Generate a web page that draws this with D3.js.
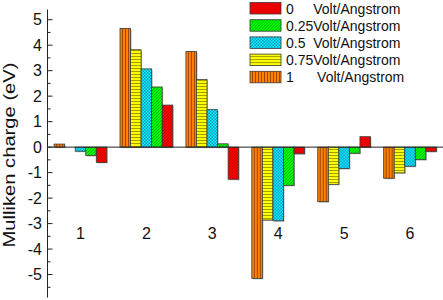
<!DOCTYPE html>
<html>
<head>
<meta charset="utf-8">
<script src="https://cdn.jsdelivr.net/npm/d3@7"></script>
<style>
  body { margin: 0; background: #fff; }
  text { font-family: "Liberation Sans", Arial, sans-serif; fill: #111; }
</style>
</head>
<body>
<svg id="chart" width="443" height="300"></svg>
<script>
// groups along the x axis
var categories = ["1", "2", "3", "4", "5", "6"];

// field strength series (legend order)
var seriesKeys = ["f0", "f025", "f05", "f075", "f1"];
var seriesLabels = ["0     Volt/Angstrom", "0.25Volt/Angstrom", "0.5  Volt/Angstrom",
                    "0.75Volt/Angstrom", "1      Volt/Angstrom"];

// Mulliken charge (eV) per group
var f0   = [-0.60, 1.65, -1.26, -0.26,  0.41, -0.17];
var f025 = [-0.33, 2.36,  0.13, -1.50, -0.24, -0.49];
var f05  = [-0.16, 3.07,  1.47, -2.89, -0.84, -0.75];
var f075 = [ 0.00, 3.82,  2.65, -2.86, -1.46, -1.01];
var f1   = [ 0.12, 4.66,  3.75, -5.15, -2.14, -1.22];

var yTicks = [-5, -4, -3, -2, -1, 0, 1, 2, 3, 4, 5];
var yMinor = [-5.5, -4.5, -3.5, -2.5, -1.5, -0.5, 0.5, 1.5, 2.5, 3.5, 4.5];

var values = {f0: f0, f025: f025, f05: f05, f075: f075, f1: f1};

var style = {
  f0:   {fill: "#ff0000", line: "#b00000", kind: "diag"},
  f025: {fill: "#00ff00", line: "#00a000", kind: "diag"},
  f05:  {fill: "#00ffff", line: "#1a8fc0", kind: "check"},
  f075: {fill: "#ffff00", line: "#a0a000", kind: "horiz"},
  f1:   {fill: "#ff8000", line: "#a04800", kind: "vert"}
};

var table = categories.map(function(c, i) {
  var row = {cat: c};
  seriesKeys.forEach(function(k) { row[k] = values[k][i]; });
  return row;
});

var svg = d3.select("#chart");
var axisX = 47.5;

var x = d3.scaleBand().domain(categories).range([axisX, 443])
    .paddingInner(0.2).paddingOuter(0.1);
// bars inside a group run from 1 V/A down to 0 V/A
var barOrder = seriesKeys.slice().reverse();
var xs = d3.scaleBand().domain(barOrder).range([0, x.bandwidth()]);
var y = d3.scaleLinear().domain([-5.9, 5.4]).range([297.5, 9.5]);

// patterns
var defs = svg.append("defs");
seriesKeys.forEach(function(k) {
  var s = style[k];
  var p = defs.append("pattern").attr("id", "pat-" + k)
      .attr("patternUnits", "userSpaceOnUse");
  if (s.kind == "diag") {
    p.attr("width", 3).attr("height", 3);
    p.append("rect").attr("width", 3).attr("height", 3).attr("fill", s.fill);
    p.append("path").attr("d", "M-1,1 L1,-1 M0,3 L3,0 M2,4 L4,2")
      .attr("stroke", s.line).attr("stroke-width", 0.8);
  } else if (s.kind == "check") {
    p.attr("width", 3).attr("height", 3);
    p.append("rect").attr("width", 3).attr("height", 3).attr("fill", s.fill);
    p.append("rect").attr("width", 1.5).attr("height", 1.5).attr("fill", s.line);
    p.append("rect").attr("x", 1.5).attr("y", 1.5).attr("width", 1.5).attr("height", 1.5).attr("fill", s.line);
  } else if (s.kind == "horiz") {
    p.attr("width", 3).attr("height", 3);
    p.append("rect").attr("width", 3).attr("height", 3).attr("fill", s.fill);
    p.append("rect").attr("y", 2).attr("width", 3).attr("height", 1).attr("fill", s.line);
  } else {
    p.attr("width", 3).attr("height", 3);
    p.append("rect").attr("width", 3).attr("height", 3).attr("fill", s.fill);
    p.append("rect").attr("x", 2).attr("width", 1).attr("height", 3).attr("fill", s.line);
  }
});

// bars
var groups = svg.selectAll(".grp")
  .data(table)
  .enter().append("g")
    .attr("class", "grp")
    .attr("transform", function(d) { return "translate(" + x(d.cat) + ",0)"; });

var cells = groups.selectAll(".cell")
  .data(function(d) { return barOrder.map(function(k) { return {key: k, value: d[k]}; }); })
  .enter();

cells.append("rect")
    .attr("class", "shadow")
    .attr("x", function(d) { return xs(d.key) + 1; })
    .attr("y", function(d) { return Math.min(y(d.value), y(0)) + 1; })
    .attr("width", xs.bandwidth())
    .attr("height", function(d) { return Math.abs(y(d.value) - y(0)); })
    .attr("fill", "#b8b8b8");

cells.append("rect")
    .attr("class", "bar")
    .attr("x", function(d) { return xs(d.key); })
    .attr("y", function(d) { return Math.min(y(d.value), y(0)); })
    .attr("width", xs.bandwidth())
    .attr("height", function(d) { return Math.abs(y(d.value) - y(0)); })
    .attr("fill", function(d) { return "url(#pat-" + d.key + ")"; })
    .attr("stroke", "#3a3a3a")
    .attr("stroke-width", 0.8);

// zero line
svg.append("line")
    .attr("x1", axisX).attr("x2", 443)
    .attr("y1", y(0)).attr("y2", y(0))
    .attr("stroke", "#222").attr("stroke-width", 1);

// y axis with inward ticks
var yAxis = svg.append("g").attr("transform", "translate(" + axisX + ",0)");
yAxis.append("line")
    .attr("y1", y.range()[0]).attr("y2", y.range()[1])
    .attr("stroke", "#222").attr("stroke-width", 1);
yAxis.selectAll(".major").data(yTicks).enter().append("line")
    .attr("x1", 0).attr("x2", 5)
    .attr("y1", function(d) { return y(d); }).attr("y2", function(d) { return y(d); })
    .attr("stroke", "#222");
yAxis.selectAll(".minor").data(yMinor).enter().append("line")
    .attr("x1", 0).attr("x2", 3)
    .attr("y1", function(d) { return y(d); }).attr("y2", function(d) { return y(d); })
    .attr("stroke", "#222");
yAxis.selectAll(".lbl").data(yTicks).enter().append("text")
    .attr("x", -5.5)
    .attr("y", function(d) { return y(d); })
    .attr("dy", "0.36em")
    .attr("text-anchor", "end")
    .style("font-size", "16px")
    .text(function(d) { return d; });

// y title
svg.append("text")
    .attr("transform", "translate(" + 15 + "," + 155 + ") rotate(-90)")
    .attr("text-anchor", "middle")
    .attr("textLength", 185)
    .attr("lengthAdjust", "spacingAndGlyphs")
    .style("font-size", "17px")
    .text("Mulliken charge (eV)");

// category labels
svg.selectAll(".cat").data(categories).enter().append("text")
    .attr("x", function(d) { return x(d) + x.bandwidth() / 2; })
    .attr("y", y(-3.6))
    .attr("text-anchor", "middle")
    .style("font-size", "16px")
    .text(function(d) { return d; });

// legend
var legend = svg.append("g").attr("transform", "translate(250,2.5)");
var li = legend.selectAll(".li").data(seriesKeys).enter().append("g")
    .attr("transform", function(d, i) { return "translate(0," + (i * 17.2) + ")"; });
li.append("rect")
    .attr("width", 31).attr("height", 11.5)
    .attr("fill", function(d) { return "url(#pat-" + d + ")"; })
    .attr("stroke", "#3a3a3a").attr("stroke-width", 0.8);
li.append("text")
    .attr("x", 36).attr("y", 11)
    .style("font-size", "14px")
    .style("white-space", "pre")
    .attr("xml:space", "preserve")
    .text(function(d, i) { return seriesLabels[i]; });
</script>
</body>
</html>
